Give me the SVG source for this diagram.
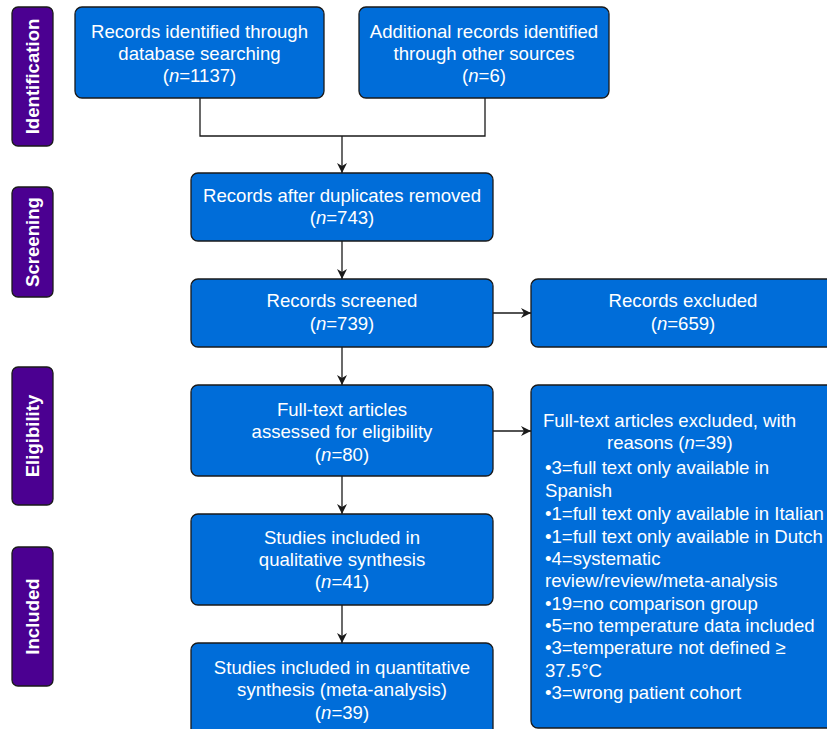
<svg xmlns="http://www.w3.org/2000/svg" width="827" height="729" viewBox="0 0 827 729">
<style>
.box{fill:#006DD9;stroke:#1a1a1a;stroke-width:1.3}
.side{fill:#4B0091;stroke:#1a1a1a;stroke-width:1.3}
.t{font-family:"Liberation Sans",Arial,sans-serif;font-size:18.6px;fill:#fff;text-anchor:middle}
.tl{font-family:"Liberation Sans",Arial,sans-serif;font-size:18.6px;fill:#fff}
.s{font-family:"Liberation Sans",Arial,sans-serif;font-size:18.6px;font-weight:bold;fill:#fff;text-anchor:middle}
.c{fill:none;stroke:#1a1a1a;stroke-width:1.3}
</style>
<defs>
<marker id="ah" viewBox="0 0 10 10" refX="10" refY="5" markerWidth="10" markerHeight="10" markerUnits="userSpaceOnUse" orient="auto">
<path d="M0,0 L10,5 L0,10 L3,5 Z" fill="#1a1a1a"/>
</marker>
</defs>
<g id="side-identification"><rect class="side" x="12" y="7" width="41" height="139" rx="6"/><text class="s" transform="translate(39,76.5) rotate(-90)">Identification</text></g>
<g id="side-screening"><rect class="side" x="12" y="187" width="41" height="110" rx="6"/><text class="s" transform="translate(39,242) rotate(-90)">Screening</text></g>
<g id="side-eligibility"><rect class="side" x="12" y="367" width="41" height="138" rx="6"/><text class="s" transform="translate(39,436) rotate(-90)">Eligibility</text></g>
<g id="side-included"><rect class="side" x="12" y="547" width="41" height="139" rx="6"/><text class="s" transform="translate(39,616.5) rotate(-90)">Included</text></g>
<g id="connectors">
<path class="c" d="M200,98 V136 H485 V98"/>
<path class="c" d="M342,136 V173" marker-end="url(#ah)"/>
<path class="c" d="M342,241 V279" marker-end="url(#ah)"/>
<path class="c" d="M342,347 V385" marker-end="url(#ah)"/>
<path class="c" d="M342,476 V514" marker-end="url(#ah)"/>
<path class="c" d="M342,605 V643" marker-end="url(#ah)"/>
<path class="c" d="M493,313 H531" marker-end="url(#ah)"/>
<path class="c" d="M493,431 H531" marker-end="url(#ah)"/>
</g>
<g id="n-db"><rect class="box" x="75" y="7" width="249" height="91" rx="7"/>
<text class="t" x="199.5" y="38">Records identified through</text>
<text class="t" x="199.5" y="60">database searching</text>
<text class="t" x="199.5" y="82">(<tspan font-style="italic">n</tspan>=1137)</text></g>
<g id="n-other"><rect class="box" x="359" y="7" width="250" height="91" rx="7"/>
<text class="t" x="484" y="38">Additional records identified</text>
<text class="t" x="484" y="60">through other sources</text>
<text class="t" x="484" y="82">(<tspan font-style="italic">n</tspan>=6)</text></g>
<g id="n-dup"><rect class="box" x="191" y="173" width="302" height="68" rx="7"/>
<text class="t" x="342" y="202">Records after duplicates removed</text>
<text class="t" x="342" y="224">(<tspan font-style="italic">n</tspan>=743)</text></g>
<g id="n-screened"><rect class="box" x="191" y="279" width="302" height="68" rx="7"/>
<text class="t" x="342" y="307">Records screened</text>
<text class="t" x="342" y="330">(<tspan font-style="italic">n</tspan>=739)</text></g>
<g id="n-excluded"><rect class="box" x="531" y="279" width="310" height="68" rx="7"/>
<text class="t" x="683" y="307">Records excluded</text>
<text class="t" x="683" y="330">(<tspan font-style="italic">n</tspan>=659)</text></g>
<g id="n-fulltext"><rect class="box" x="191" y="385" width="302" height="91" rx="7"/>
<text class="t" x="342" y="416">Full-text articles</text>
<text class="t" x="342" y="438">assessed for eligibility</text>
<text class="t" x="342" y="461">(<tspan font-style="italic">n</tspan>=80)</text></g>
<g id="n-ftexcluded"><rect class="box" x="531" y="385" width="310" height="343" rx="7"/>
<text class="tl" x="543" y="427">Full-text articles excluded, with</text>
<text class="tl" x="607" y="449">reasons (<tspan font-style="italic">n</tspan>=39)</text>
<text class="tl" x="545" y="474">•3=full text only available in</text>
<text class="tl" x="545" y="497">Spanish</text>
<text class="tl" x="545" y="520">•1=full text only available in Italian</text>
<text class="tl" x="545" y="543">•1=full text only available in Dutch</text>
<text class="tl" x="545" y="565">•4=systematic</text>
<text class="tl" x="545" y="587">review/review/meta-analysis</text>
<text class="tl" x="545" y="610">•19=no comparison group</text>
<text class="tl" x="545" y="632">•5=no temperature data included</text>
<text class="tl" x="545" y="654">•3=temperature not defined ≥</text>
<text class="tl" x="545" y="677">37.5°C</text>
<text class="tl" x="545" y="699">•3=wrong patient cohort</text></g>
<g id="n-qual"><rect class="box" x="191" y="514" width="302" height="91" rx="7"/>
<text class="t" x="342" y="544">Studies included in</text>
<text class="t" x="342" y="566">qualitative synthesis</text>
<text class="t" x="342" y="588">(<tspan font-style="italic">n</tspan>=41)</text></g>
<g id="n-quant"><rect class="box" x="191" y="643" width="302" height="100" rx="7"/>
<text class="t" x="342" y="674">Studies included in quantitative</text>
<text class="t" x="342" y="696">synthesis (meta-analysis)</text>
<text class="t" x="342" y="719">(<tspan font-style="italic">n</tspan>=39)</text></g>
</svg>
